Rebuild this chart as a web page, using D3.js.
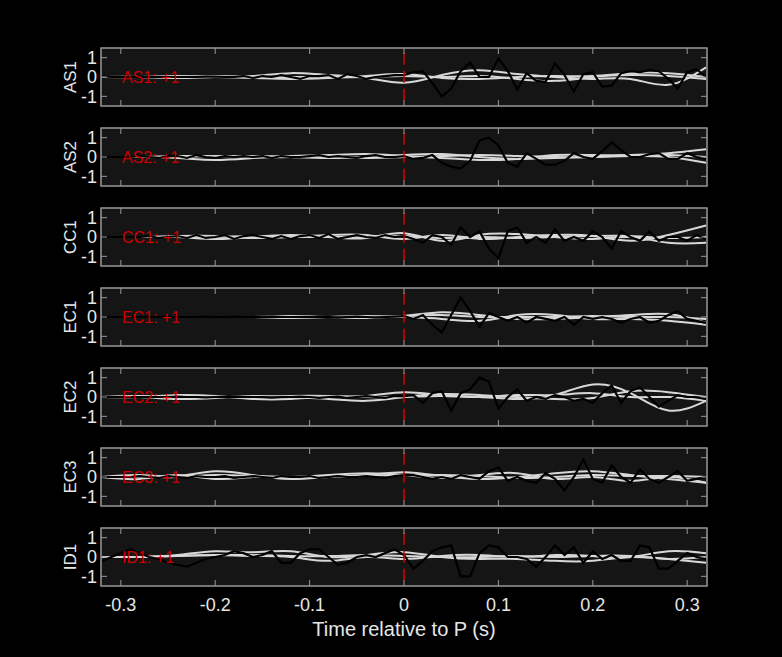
<!DOCTYPE html>
<html><head><meta charset="utf-8">
<script src="https://cdn.jsdelivr.net/npm/d3@7"></script>
<style>body{margin:0;background:#000}svg{display:block}text{font-family:"Liberation Sans",Arial,sans-serif}</style>
</head><body><svg id="c" width="782" height="657"></svg>
<script>
// stations
var stations = ["AS1","AS2","CC1","EC1","EC2","EC3","ID1"];
var polarity = ["+1","+1","+1","+1","+1","+1","+1"];
var xTicks = [-0.3,-0.2,-0.1,0,0.1,0.2,0.3];
var yTicks = [-1,0,1];

// black trace, one sample every 0.01 s from -0.32 to 0.32
var blackAS1 = [0.05,0,0,0,0,0,0,0,0,0,0,0.02,0.02,0,0,0.05,-0.05,0.05,0,0.1,0,-0.1,0.05,0.05,0.1,-0.1,0.15,0.05,-0.1,0,0.05,0.1,0.1,
  0.25,0.3,-0.3,-1.0,-0.6,0.3,0.75,0.0,0.0,0.95,0.3,-0.65,0.2,-0.2,-0.25,0.7,0.1,-0.75,0.15,0.25,-0.5,-0.45,0.2,0.3,0.25,0.35,0.3,-0.1,-0.6,0.25,0.4,0.0];
var blackAS2 = [0,0,0,0,0.05,0,-0.05,0.05,0.05,-0.05,0.1,0,-0.05,0.05,0,0.05,0,0.05,-0.05,0.05,0,0,0.05,0.1,0,0.05,0,-0.05,0.05,0.1,0,0,0.05,
  -0.1,-0.05,0.1,-0.3,-0.5,-0.6,-0.2,0.85,1.0,0.6,-0.3,-0.5,0.2,-0.1,-0.4,-0.4,-0.2,0.2,0.0,-0.1,0.3,0.75,0.35,0.0,0.0,0.15,0.2,-0.1,-0.1,0.2,0.0,-0.1];
var blackCC1 = [0,0,0,0,0,0.05,-0.05,0,0.05,-0.05,0.1,-0.05,0,0.1,-0.1,0.05,0.1,0,-0.1,0.05,-0.1,0.05,0.1,-0.05,0.15,-0.1,0,0.1,0,-0.05,0.1,0,0.05,
  -0.1,-0.3,0.1,0.0,-0.4,0.5,0.0,0.3,-0.6,-1.1,0.3,0.5,-0.3,0.0,-0.3,0.4,-0.2,0.0,-0.2,0.3,0.0,-0.6,0.3,0.0,-0.2,0.3,-0.2,0.0,0.0,-0.2,0.1,-0.1];
var blackEC1 = [0,0,0,0,0,0,0,0,0,0,0,0.02,0,0,0.02,0,0,0,0.02,0,0,0,0,0.02,0,-0.02,0,0.02,0,-0.02,0,0.02,0.05,
  -0.1,0.1,-0.4,-0.8,0.1,1.0,0.3,-0.5,0.2,0.0,-0.2,0.0,-0.3,0.0,-0.1,-0.2,0.0,-0.4,0.0,-0.1,0.0,-0.1,-0.3,-0.1,0.0,-0.3,-0.2,0.1,0.3,-0.1,-0.2,-0.3];
var blackEC2 = [0,0,0,0,0,0,0,0,0.02,0,0,-0.02,0,0,0.02,0,0,0,-0.02,0,0,0.02,0,-0.05,0,0.02,-0.05,0,0.05,0,-0.05,0.05,0.05,
  0.1,-0.3,0.2,0.3,-0.7,0.2,0.4,1.0,0.8,-0.6,0.0,0.4,-0.2,0.0,-0.1,0.1,0.0,-0.2,-0.1,-0.3,0.2,0.6,-0.3,0.3,0.5,0.0,-0.5,-0.2,0.1,0.0,0.0,-0.1];
var blackEC3 = [0,0,0,0,0.05,0,-0.05,0.05,0,-0.05,0.05,0,0,0.05,-0.05,0,0.05,0,-0.05,0.05,0,0,0.05,-0.05,0,0.05,0,0,0.05,0,-0.05,0.05,0.1,
  0.1,0.0,-0.1,0.0,-0.1,0.1,0.0,-0.1,0.3,0.5,-0.2,0.0,-0.2,-0.3,0.2,-0.1,-0.7,0.0,0.9,-0.1,-0.3,0.6,0.0,-0.3,0.4,-0.1,-0.3,0.0,0.3,-0.2,-0.1,0.0];
var blackID1 = [-0.2,0.0,0.2,0.4,0.2,0.0,-0.1,-0.3,-0.4,-0.5,-0.3,-0.1,0.0,0.1,0.3,0.2,0.0,0.1,0.3,-0.3,-0.3,0.2,0.4,0.4,0.0,-0.4,-0.3,0.0,0.1,0.0,0.2,0.4,0.1,
  -0.6,-0.2,0.3,0.5,0.6,-1.0,-1.0,0.2,0.6,0.5,0.0,0.0,-0.1,-0.5,0.0,0.6,0.1,0.5,-0.3,0.3,-0.1,0.1,-0.2,-0.2,0.6,0.5,-0.6,-0.6,-0.2,0.2,0.0,-0.1];
var blackTraces = [blackAS1,blackAS2,blackCC1,blackEC1,blackEC2,blackEC3,blackID1];

// grey synthetic traces, control points every 0.04 s from -0.32 to 0.32
var greyAS1 = [[0,0,-0.05,0,0.05,0.2,0.1,-0.05,-0.3,0.1,0.35,0.15,0,-0.1,-0.1,-0.4,0.5],
               [0,0,0.05,0,-0.05,-0.1,-0.05,0.05,0.15,-0.05,-0.1,0,0.05,0.05,0.2,0.2,0],
               [0,0,0,0.05,0,0,0,0,0.05,0,0.05,-0.1,-0.2,0,0.1,0.05,-0.1]];
var greyAS2 = [[0,0,-0.05,-0.15,-0.05,0.05,0.1,0.15,0.05,-0.05,-0.15,-0.1,0.1,0.1,0.1,0.2,0.4],
               [0,0,0.05,0.05,0.05,0,-0.05,0,0.1,0.15,0,-0.1,-0.05,0,0.05,0,-0.3],
               [0,0,0,0.05,0,0,0.05,-0.05,0,0.05,0.1,0.05,0,0,0.1,0.1,0]];
var greyCC1 = [[0,0,0,-0.1,0,0.1,0,-0.05,0.2,-0.2,0.1,0.15,0,-0.1,0,-0.3,-0.3],
               [0,0,0.05,0.05,-0.05,0,0.1,0.1,-0.1,0.1,-0.1,0,0.1,0.05,-0.2,0.1,0.6],
               [0,0,0,0,0.05,0,0,0,0.05,-0.05,0,-0.05,0,0.05,0.05,-0.05,0]];
var greyEC1 = [[0,0,0,0,0,0.05,0,0,0.05,0.25,0.1,-0.1,-0.1,0,0.1,0.15,-0.3],
               [0,0,0,0,0,-0.05,0,0.05,0,-0.1,-0.2,0.1,0.1,-0.1,-0.1,-0.2,-0.4],
               [0,0,0,0,0,0,0,-0.05,0.05,0.1,0,0,0,0.05,0,0,-0.1]];
var greyEC2 = [[0,0,0.1,0.05,-0.1,-0.1,0,0.05,0.25,0.1,0,-0.1,0.1,0.65,0.2,-0.7,-0.2],
               [0,0,-0.1,-0.05,0.05,0,-0.1,-0.2,0,0.15,0.1,0,-0.1,-0.05,0.3,0.25,0],
               [0,0.05,0,0,0,0.05,0.05,0,0,0.05,0,0.1,0.1,0.2,0,0,-0.2]];
var greyEC3 = [[0,0.1,0.05,0.3,0.1,-0.1,0,0.1,0.25,0.05,-0.1,0,0.2,0.3,0.1,-0.1,-0.3],
               [0,-0.1,0.1,-0.1,0,0,0.1,0.2,0.1,-0.05,0.1,0.2,-0.1,0,-0.2,0,-0.3],
               [0,0,0,0.1,0.05,0,0,0.05,0.1,0.1,0.05,-0.05,0,0.1,0.05,0.05,0]];
var greyID1 = [[0,0,0.1,0.3,0.25,0.3,0,0.1,0.25,0,-0.1,-0.1,-0.2,-0.2,0,-0.1,-0.3],
               [0,0,0.05,0.1,0.05,0,-0.2,0,-0.1,0.05,0.1,0,0.1,0.05,0,0.3,0.2],
               [0,0,0.05,0.1,0.1,0.05,0.05,0.1,0.05,0,0,0.05,0,0.05,0.05,-0.1,0]];
var greyTraces = [greyAS1,greyAS2,greyCC1,greyEC1,greyEC2,greyEC3,greyID1];

var svg = d3.select("#c");
var left = 101, right = 707, top0 = 48, ph = 58, gap = 80;
var x = d3.scaleLinear().domain([-0.321,0.321]).range([left,right]);
var tBlack = d3.range(65).map(function(i){ return -0.32 + i*0.01; });
var tGrey = d3.range(17).map(function(i){ return -0.32 + i*0.04; });

stations.forEach(function(name, k){
  var top = top0 + k*gap;
  var y = d3.scaleLinear().domain([-1.5,1.5]).range([top+ph, top]);
  var g = svg.append("g");
  g.append("rect").attr("x",left).attr("y",top).attr("width",right-left).attr("height",ph).attr("fill","#151515");

  var clipId = "clip"+k;
  g.append("clipPath").attr("id",clipId).append("rect").attr("x",left).attr("y",top).attr("width",right-left).attr("height",ph);
  var plot = g.append("g").attr("clip-path","url(#"+clipId+")");

  var gl = d3.line().x(function(d,i){ return x(tGrey[i]); }).y(function(d){ return y(d); }).curve(d3.curveNatural);
  greyTraces[k].forEach(function(tr){
    plot.append("path").attr("d",gl(tr)).attr("fill","none").attr("stroke","#d8d8d8").attr("stroke-width",2);
  });
  var bl = d3.line().x(function(d,i){ return x(tBlack[i]); }).y(function(d){ return y(d); });
  plot.append("path").attr("d",bl(blackTraces[k])).attr("fill","none").attr("stroke","#000").attr("stroke-width",2.2);

  // P marker
  g.append("line").attr("x1",x(0)).attr("x2",x(0)).attr("y1",y(1.25)).attr("y2",y(-1.25))
    .attr("stroke","#d40000").attr("stroke-width",1.5).attr("stroke-dasharray","12,6");

  // axes frame
  g.append("rect").attr("x",left).attr("y",top).attr("width",right-left).attr("height",ph)
    .attr("fill","none").attr("stroke","#999").attr("stroke-width",1.5);
  xTicks.forEach(function(t){
    g.append("line").attr("x1",x(t)).attr("x2",x(t)).attr("y1",top+ph).attr("y2",top+ph-6).attr("stroke","#999");
    g.append("line").attr("x1",x(t)).attr("x2",x(t)).attr("y1",top).attr("y2",top+6).attr("stroke","#999");
  });
  yTicks.forEach(function(v){
    g.append("line").attr("x1",left).attr("x2",left+6).attr("y1",y(v)).attr("y2",y(v)).attr("stroke","#999");
    g.append("line").attr("x1",right).attr("x2",right-6).attr("y1",y(v)).attr("y2",y(v)).attr("stroke","#999");
    g.append("text").attr("x",left-4).attr("y",y(v)).attr("dy","0.36em").attr("text-anchor","end")
      .attr("fill","#e6e6e6").attr("font-size",18).text(v);
  });
  g.append("text").attr("transform","translate(76,"+(top+ph/2)+") rotate(-90)").attr("text-anchor","middle")
    .attr("fill","#e6e6e6").attr("font-size",17).text(name);
  g.append("text").attr("x",122).attr("y",y(0)).attr("dy","0.38em").attr("fill","#cc0000")
    .attr("font-size",16).text(name+": "+polarity[k]);
});

var bottom = top0 + 6*gap + ph;
xTicks.forEach(function(t){
  svg.append("text").attr("x",x(t)).attr("y",bottom+25).attr("text-anchor","middle")
    .attr("fill","#e6e6e6").attr("font-size",18).text(t);
});
svg.append("text").attr("x",(left+right)/2).attr("y",bottom+50).attr("text-anchor","middle")
  .attr("fill","#e6e6e6").attr("font-size",20).text("Time relative to P (s)");
</script></body></html>
